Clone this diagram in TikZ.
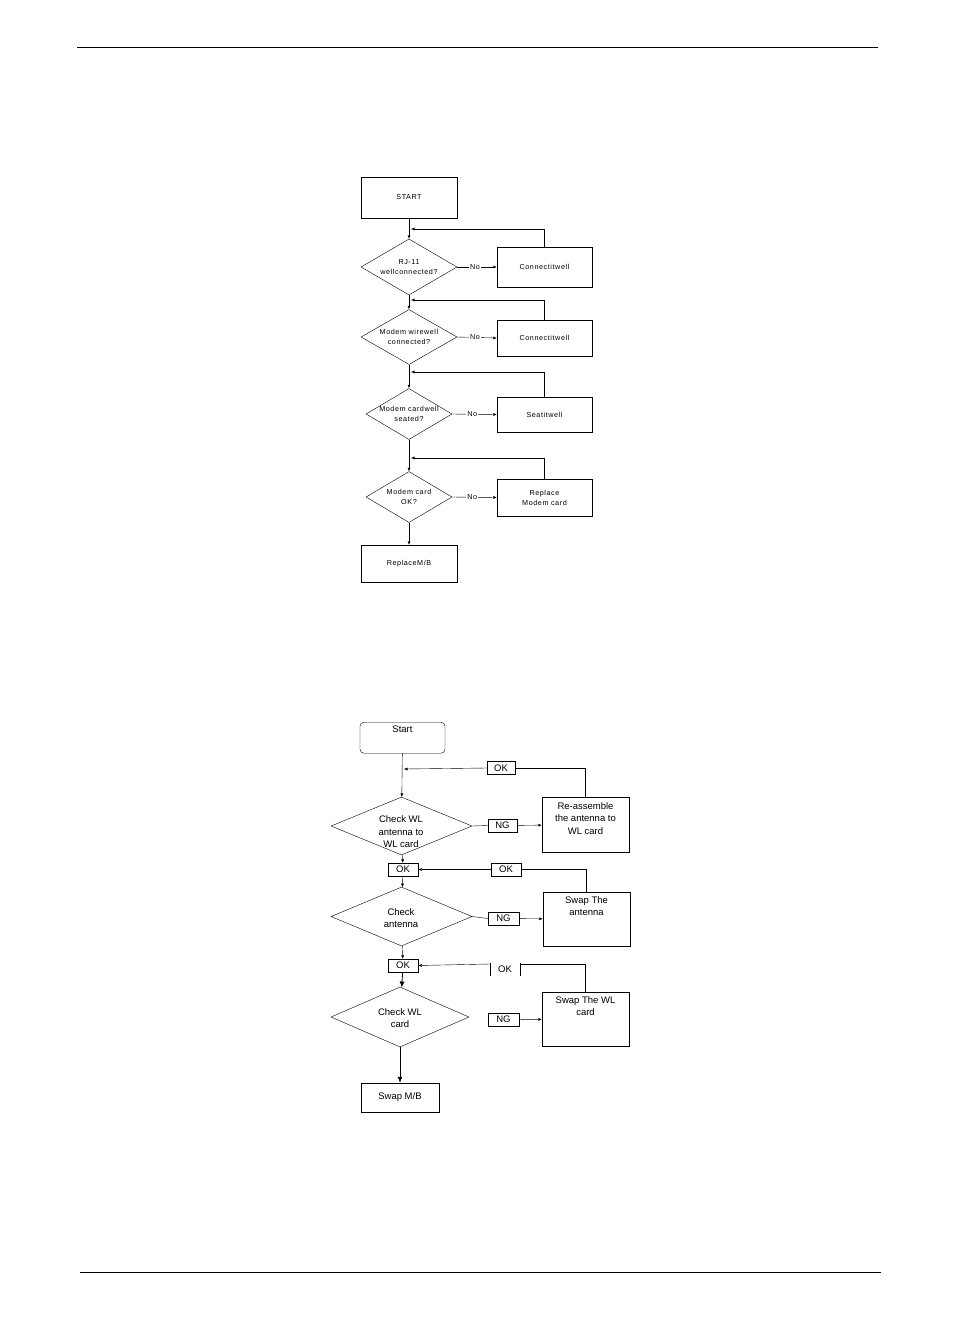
\documentclass[tikz,border=0pt]{standalone}
\usepackage{fontspec}
\setmainfont{Liberation Sans}
\usetikzlibrary{shapes.geometric,arrows.meta}
\begin{document}
\begin{tikzpicture}[x=1pt,y=-1pt,
  box/.style={draw,thin,inner sep=0pt,align=center},
  dia/.style={draw,thin,diamond,inner sep=0pt},
  small/.style={font=\fontsize{7.2}{10}\selectfont\addfontfeatures{LetterSpace=8}},
  big/.style={font=\fontsize{9.5}{12.5}\selectfont},
  txt/.style={inner sep=0pt,align=center},
  lbl/.style={inner sep=0pt,align=center,anchor=north,font=\fontsize{9.5}{12.5}\selectfont},
  arr/.style={-{Latex[length=3.5pt,width=3pt]},thin},
  tag/.style={draw,thin,inner sep=0pt,minimum height=13pt,font=\fontsize{9.5}{10}\selectfont}]
\useasboundingbox (0,0) rectangle (954,1336);
\draw[thin] (77,47) -- (878,47);
\draw[thin] (80,1272) -- (881,1272);
% top chart
\node[box,small,minimum width=96pt,minimum height=41pt] (s) at (409,197.5) {START};
\node[dia,minimum width=96pt,minimum height=56pt] (d1) at (409,267) {};
\node[dia,minimum width=96pt,minimum height=55pt] (d2) at (409,337) {};
\node[dia,minimum width=86pt,minimum height=51pt] (d3) at (409,414) {};
\node[dia,minimum width=86pt,minimum height=51pt] (d4) at (409,497) {};
\node[txt,small] (t1) at (d1) {RJ-11\\wellconnected?};
\node[txt,small] (t2) at (d2) {Modem wirewell\\connected?};
\node[txt,small] (t3) at (d3) {Modem cardwell\\seated?};
\node[txt,small] (t4) at (d4) {Modem card\\OK?};
\node[box,small,minimum width=95pt,minimum height=40pt] (b1) at (544.5,267) {Connectitwell};
\node[box,small,minimum width=95pt,minimum height=36pt] (b2) at (544.5,338) {Connectitwell};
\node[box,small,minimum width=95pt,minimum height=35pt] (b3) at (544.5,414.5) {Seatitwell};
\node[box,small,minimum width=95pt,minimum height=37pt] (b4) at (544.5,497.5) {Replace\\Modem card};
\node[box,small,minimum width=96pt,minimum height=37pt] (mb) at (409,563.5) {ReplaceM/B};
\draw[arr] (s) -- (d1);
\draw[arr] (d1) -- (d2);
\draw[arr] (d2) -- (d3);
\draw[arr] (d3) -- (d4);
\draw[arr] (d4) -- (mb);
\foreach \d/\b/\y in {d1/b1/229,d2/b2/300,d3/b3/372,d4/b4/458}{
  \draw[arr] (\d.east) -- node[fill=white,small,inner sep=1pt,pos=0.45]{No} (\b.west);
  \coordinate (c\b) at (411,\y);
  \draw[arr] (\b.north) |- (c\b);
}
% bottom chart
\node[box,rounded corners=4pt,minimum width=85pt,minimum height=31pt,anchor=north] (st) at (402.5,722) {};
\node[lbl] (stl) at (402.5,726) {Start};
\node[dia,minimum width=141pt,minimum height=58pt] (e1) at (401.5,826) {};
\node[dia,minimum width=141pt,minimum height=59pt] (e2) at (401.5,916.5) {};
\node[dia,minimum width=138pt,minimum height=60pt] (e3) at (400,1017) {};
\node[txt,big] (u1) at (401,832) {Check WL\\antenna to\\WL card};
\node[txt,big] (u2) at (401,918) {Check\\antenna};
\node[txt,big] (u3) at (400,1018) {Check WL\\card};
\node[box,minimum width=87pt,minimum height=55pt,anchor=north] (r1) at (585.5,797) {};
\node[lbl] (r1l) at (585.5,802) {Re-assemble\\the antenna to\\WL card};
\node[box,minimum width=87pt,minimum height=54pt,anchor=north] (r2) at (586.5,892) {};
\node[lbl] (r2l) at (586.5,896) {Swap The\\antenna};
\node[box,minimum width=87pt,minimum height=54pt,anchor=north] (r3) at (585.5,992) {};
\node[lbl] (r3l) at (585.5,996) {Swap The WL\\card};
\node[box,big,minimum width=78pt,minimum height=29pt] (sm) at (400,1097.5) {Swap M/B};
\node[tag,minimum width=30pt,fill=white] (ok1) at (403,869.5) {OK};
\node[tag,minimum width=30pt] (ok2) at (403,965.5) {OK};
\node[tag,minimum width=29pt] (ng1) at (502.5,825.5) {NG};
\node[tag,minimum width=31pt] (ng2) at (503.5,918.5) {NG};
\node[tag,minimum width=31pt] (ng3) at (503.5,1019.5) {NG};
\node[tag,minimum width=28pt,fill=white] (fa) at (501,768) {OK};
\node[tag,minimum width=30pt,fill=white] (fb) at (506,869.5) {OK};
\node[font=\fontsize{9.5}{10}\selectfont,fill=white,inner sep=1pt] (fc) at (505,969) {OK};
\draw[thin] (490,963) -- (490,976) (520,963) -- (520,976);
\draw[arr] (st) -- (e1);
\draw[arr] (e1) -- (ok1);
\draw[arr] (ok1) -- (e2);
\draw[arr] (e2) -- (ok2);
\draw[-{Latex[length=6pt,width=5pt]},thick] (ok2) -- (e3);
\draw[-{Latex[length=6pt,width=5pt]},thick] (e3.south) -- (sm.north -| e3.south);
\draw[thin] (e1.east) -- (ng1.west);
\draw[thin] (e2.east) -- (ng2.west);
\draw[arr] (ng1) -- (r1);
\draw[arr] (ng2) -- (r2);
\draw[arr] (ng3) -- (r3);
\coordinate (ca) at (404,769);
\draw[thin] (r1.north) |- (fa.east);
\draw[arr] (fa.west) -- (ca);
\draw[thin] (r2.north) |- (fb.east);
\draw[arr] (fb.west) -- (ok1.east);
\draw[thin] (r3.north) |- (520,964);
\draw[arr] (490,964) -- (ok2.east);
\end{tikzpicture}
\end{document}
